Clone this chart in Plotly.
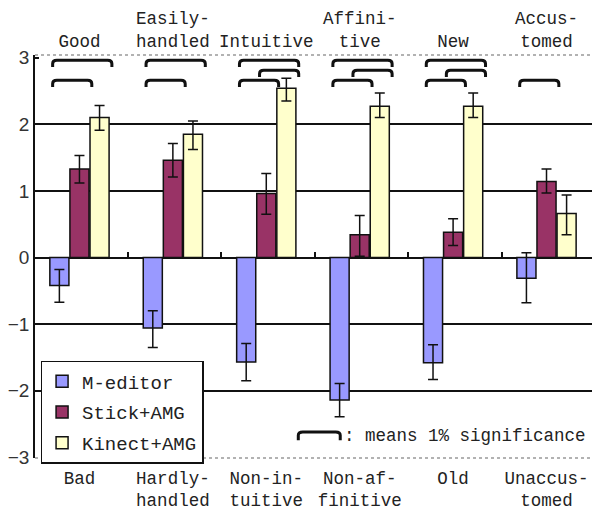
import plotly.graph_objects as go

# ---------------- data ----------------
bottom_labels = ["Bad", "Hardly-<br>handled", "Non-in-<br>tuitive", "Non-af-<br>finitive", "Old", "Unaccus-<br>tomed"]
top_labels = ["Good", "Easily-<br>handled", "Intuitive", "Affini-<br>tive", "New", "Accus-<br>tomed"]
series_names = ["M-editor", "Stick+AMG", "Kinect+AMG"]
series_colors = ["#9999FF", "#993366", "#FFFFCC"]

m_editor = [-0.42, -1.06, -1.57, -2.14, -1.58, -0.31]
m_editor_hi = [-0.18, -0.80, -1.29, -1.89, -1.31, 0.07]
m_editor_lo = [-0.67, -1.35, -1.85, -2.39, -1.83, -0.68]

stick = [1.33, 1.46, 0.96, 0.34, 0.38, 1.14]
stick_hi = [1.53, 1.71, 1.26, 0.63, 0.58, 1.33]
stick_lo = [1.12, 1.21, 0.65, 0.02, 0.18, 0.97]

kinect = [2.10, 1.85, 2.54, 2.27, 2.27, 0.66]
kinect_hi = [2.28, 2.05, 2.69, 2.47, 2.47, 0.94]
kinect_lo = [1.91, 1.62, 2.35, 2.10, 2.10, 0.34]

y_ticks = [3, 2, 1, 0, -1, -2, -3]
y_tick_text = ["3", "2", "1", "0", "\u22121", "\u22122", "\u22123"]
grid_vals = [2, 1, 0, -1, -2]

# significance brackets: (category, first series, second series, level)
sig_pairs = [
    (0, 0, 2, 2), (0, 0, 1, 0),
    (1, 0, 2, 2), (1, 0, 1, 0),
    (2, 0, 2, 2), (2, 1, 2, 1), (2, 0, 1, 0),
    (3, 0, 2, 2), (3, 1, 2, 1), (3, 0, 1, 0),
    (4, 0, 2, 2), (4, 1, 2, 1), (4, 0, 1, 0),
    (5, 0, 1, 0),
]
level_y = [2.66, 2.81, 2.96]

# ---------------- figure ----------------
values = [m_editor, stick, kinect]
his = [m_editor_hi, stick_hi, kinect_hi]
los = [m_editor_lo, stick_lo, kinect_lo]
cats = list(range(len(bottom_labels)))

BARGAP = 0.355
GROUPGAP = 0.05
slot = (1 - BARGAP) / 3
half_bar = slot * (1 - GROUPGAP) / 2

MONO = "Liberation Mono, Courier New, monospace"
TXT = "#222222"

fig = go.Figure()
for k in range(3):
    v = values[k]
    plus = [h - val for h, val in zip(his[k], v)]
    minus = [val - l for l, val in zip(los[k], v)]
    fig.add_trace(go.Bar(
        x=cats, y=v, name=series_names[k],
        marker=dict(color=series_colors[k], line=dict(color="#111111", width=1.5)),
        error_y=dict(type="data", symmetric=False, array=plus, arrayminus=minus,
                     color="#111111", thickness=1.5, width=5),
        legendgroup=series_names[k],
    ))

# invisible anchors so the extra axes render
fig.add_trace(go.Scatter(x=[0], y=[0], xaxis="x2", mode="markers",
                         marker=dict(opacity=0), showlegend=False, hoverinfo="skip"))
fig.add_trace(go.Scatter(x=[0], y=[0], xaxis="x3", mode="markers",
                         marker=dict(opacity=0), showlegend=False, hoverinfo="skip"))

xr = [-0.476, 5.487]
yr = [-3.01, 3.04]
zero_pos = (0 - yr[0]) / (yr[1] - yr[0])

fig.update_layout(
    width=592, height=510,
    margin=dict(l=35, r=0, t=55, b=52, pad=0),
    paper_bgcolor="white", plot_bgcolor="white",
    barmode="group", bargap=BARGAP, bargroupgap=GROUPGAP,
    showlegend=True,
    legend=dict(x=0.01, y=0.2407, xanchor="left", yanchor="top",
                bgcolor="white", bordercolor="#111111", borderwidth=1.5,
                font=dict(family=MONO, size=19, color=TXT),
                tracegroupgap=3, itemwidth=30),
    xaxis=dict(range=xr, tickmode="array", tickvals=cats, ticktext=bottom_labels,
               showgrid=False, zeroline=False, showline=False, ticks="",
               ticklabelstandoff=7,
               tickfont=dict(family=MONO, size=17.5, color=TXT)),
    xaxis2=dict(range=xr, overlaying="x", side="top", tickmode="array",
                tickvals=cats, ticktext=top_labels, showgrid=False, zeroline=False,
                showline=False, ticks="", ticklabelstandoff=4,
                tickfont=dict(family=MONO, size=17.5, color=TXT)),
    xaxis3=dict(range=xr, overlaying="x", anchor="free", position=zero_pos, side="top",
                tickmode="array", tickvals=[c + 0.52 for c in cats[:-1]],
                showticklabels=False, ticks="outside", ticklen=5, tickwidth=1.5,
                tickcolor="#111111", showgrid=False, zeroline=False, showline=False),
    yaxis=dict(range=yr, tickmode="array", tickvals=y_ticks, ticktext=y_tick_text,
               showgrid=False, zeroline=False, showline=True, linecolor="#111111",
               linewidth=1.5, ticks="inside", ticklen=4, tickwidth=1.5, tickcolor="#111111",
               tickfont=dict(family="Liberation Sans, Arial, sans-serif", size=19, color="#333333"),
               minor=dict(tickmode="array", tickvals=grid_vals, showgrid=True,
                          gridcolor="#111111", gridwidth=1.5, ticks="")),
)

shapes = []
# dotted top and bottom border lines
for yp in (0, 1):
    shapes.append(dict(type="line", xref="paper", yref="paper", x0=0, x1=1, y0=yp, y1=yp,
                       line=dict(color="#999999", width=1.5, dash="dot")))

# significance brackets
drop = 0.10
rx = 0.045
ry = 0.05
for cat, a, b, lvl in sig_pairs:
    x1 = cat + (a - 1) * slot - half_bar + 0.03
    x2 = cat + (b - 1) * slot + half_bar + 0.03
    y = level_y[lvl]
    path = (f"M {x1},{y - drop} L {x1},{y - ry} Q {x1},{y} {x1 + rx},{y} "
            f"L {x2 - rx},{y} Q {x2},{y} {x2},{y - ry} L {x2},{y - drop}")
    shapes.append(dict(type="path", xref="x", yref="y", path=path,
                       line=dict(color="#111111", width=3)))

# explanatory bracket near the bottom
px0, px1 = 0.4727, 0.548
py_top, py_bot = 0.0645, 0.044
shapes.append(dict(type="path", xref="paper", yref="paper",
                   path=(f"M {px0},{py_bot} L {px0},{py_top - 0.008} Q {px0},{py_top} {px0 + 0.008},{py_top} "
                         f"L {px1 - 0.008},{py_top} Q {px1},{py_top} {px1},{py_top - 0.008} L {px1},{py_bot}"),
                   line=dict(color="#111111", width=3)))
fig.update_layout(shapes=shapes)

fig.add_annotation(xref="paper", yref="paper", x=0.552, y=0.055, xanchor="left", yanchor="middle",
                   text=": means 1% significance", showarrow=False,
                   font=dict(family=MONO, size=17.5, color=TXT))

fig.write_html("out.html", config={"displayModeBar": False},
               post_script="document.body.style.margin='0px';")
